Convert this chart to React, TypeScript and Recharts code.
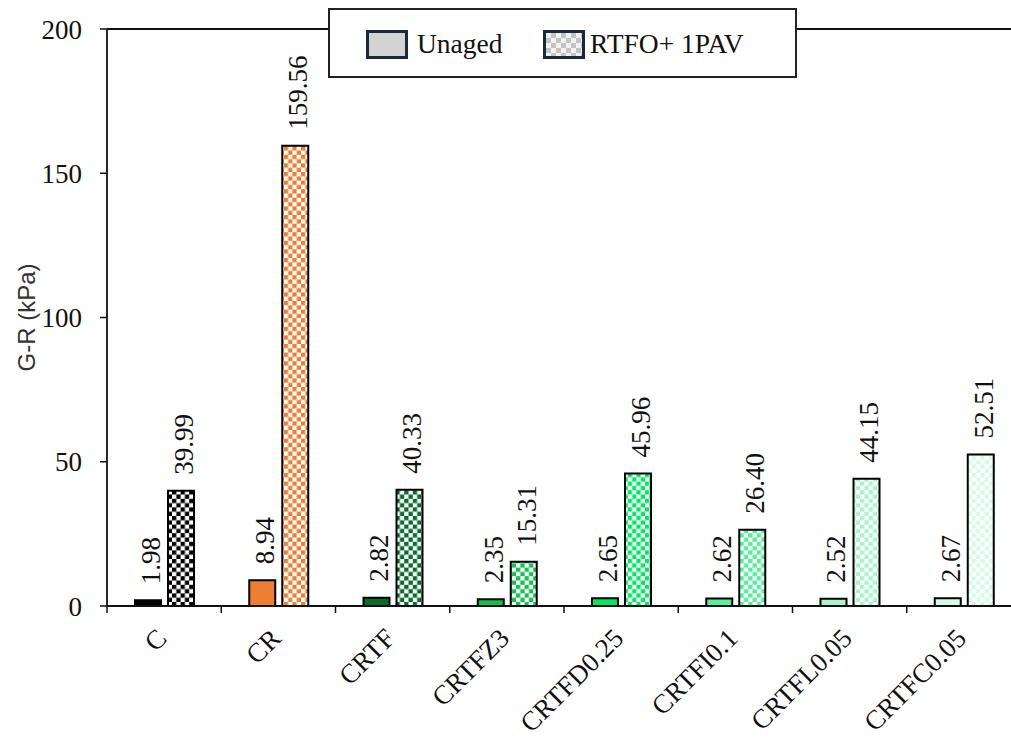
import { Bar, BarChart, Cell, LabelList, ReferenceLine, XAxis, YAxis } from "recharts";

const CATEGORIES = ["C", "CR", "CRTF", "CRTFZ3", "CRTFD0.25", "CRTFI0.1", "CRTFL0.05", "CRTFC0.05"];
const UNAGED = [1.98, 8.94, 2.82, 2.35, 2.65, 2.62, 2.52, 2.67];
const RTFO_PAV = [39.99, 159.56, 40.33, 15.31, 45.96, 26.4, 44.15, 52.51];
const COLORS = ["#000000", "#ED7D31", "#0A6B2E", "#16BE52", "#00E862", "#55EE9A", "#A8F5CD", "#D5FAE8"];
const Y_TICKS = [0, 50, 100, 150, 200];

const SERIF = "'Liberation Serif', 'Times New Roman', serif";
const SANS = "'Liberation Sans', Arial, sans-serif";

const W = 1011;
const H = 738;
const MARGIN = { top: 29, right: -10, bottom: 0, left: 0 };
const Y_AXIS_W = 107;
const X_AXIS_H = 132;
const BAND = (W - Y_AXIS_W - MARGIN.left - MARGIN.right) / CATEGORIES.length;

const data = CATEGORIES.map((name, i) => ({
  name,
  unaged: UNAGED[i],
  aged: RTFO_PAV[i],
}));

function ValueLabel(props: any) {
  const { x, y, width, value } = props;
  const cx = x + width / 2 + 3;
  const ty = y - 16;
  return (
    <text
      x={cx}
      y={ty}
      transform={`rotate(-90, ${cx}, ${ty})`}
      textAnchor="start"
      dominantBaseline="central"
      fontFamily={SERIF}
      style={{ fontFamily: SERIF, fontSize: 27, fill: "#111" }}
    >
      {Number(value).toFixed(2)}
    </text>
  );
}

function CategoryTick(props: any) {
  const { x, y, payload } = props;
  const tx = x + 4;
  const ty = y + 26;
  const bx = x - BAND / 2;
  return (
    <g>
      <line x1={bx} y1={y - 8} x2={bx} y2={y - 1} stroke="#111" strokeWidth={1.5} />
      <text
        x={tx}
        y={ty}
        transform={`rotate(-45, ${tx}, ${ty})`}
        textAnchor="end"
        style={{ fontFamily: SERIF, fontSize: 27, fill: "#111" }}
      >
        {payload.value}
      </text>
    </g>
  );
}

function LegendBox() {
  const swatch = { width: 36, height: 23, border: "3px solid #1B2A38", display: "inline-block" };
  return (
    <div
      style={{
        position: "absolute",
        left: 328,
        top: 8,
        width: 465,
        height: 66,
        border: "2px solid #222",
        background: "#fff",
        fontFamily: SERIF,
        fontSize: 27.5,
        color: "#111",
      }}
    >
      <span style={{ ...swatch, position: "absolute", left: 36, top: 20, background: "#D3D3D3" }} />
      <span style={{ position: "absolute", left: 87, top: 17, lineHeight: "34px" }}>Unaged</span>
      <span
        style={{
          ...swatch,
          position: "absolute",
          left: 213,
          top: 20,
          backgroundColor: "#F2F2F2",
          backgroundImage:
            "linear-gradient(45deg, #C4C4C4 25%, transparent 25%, transparent 75%, #C4C4C4 75%), linear-gradient(45deg, #C4C4C4 25%, transparent 25%, transparent 75%, #C4C4C4 75%)",
          backgroundSize: "10px 10px",
          backgroundPosition: "0 0, 5px 5px",
        }}
      />
      <span style={{ position: "absolute", left: 260, top: 17, lineHeight: "34px" }}>RTFO+ 1PAV</span>
    </div>
  );
}

export default function App() {
  return (
    <div style={{ position: "absolute", left: 0, top: 0, width: W, height: H, background: "#fff" }}>
      <BarChart width={W} height={H} data={data} margin={MARGIN} barSize={26} barGap={7}>
        <defs>
          {COLORS.map((c, i) => (
            <pattern key={i} id={`chk-${i}`} width={8.6} height={8.6} patternUnits="userSpaceOnUse">
              <rect x={0} y={0} width={8.6} height={8.6} fill="#fff" />
              <rect x={0} y={0} width={4.3} height={4.3} fill={c} />
              <rect x={4.3} y={4.3} width={4.3} height={4.3} fill={c} />
            </pattern>
          ))}
        </defs>
        <XAxis
          dataKey="name"
          height={X_AXIS_H}
          tickLine={false}
          axisLine={{ stroke: "#111", strokeWidth: 1.8 }}
          interval={0}
          tick={<CategoryTick />}
        />
        <YAxis
          width={Y_AXIS_W}
          domain={[0, 200]}
          ticks={Y_TICKS}
          tickSize={7}
          tickMargin={18}
          axisLine={{ stroke: "#111", strokeWidth: 1.8 }}
          tickLine={{ stroke: "#111", strokeWidth: 1.5 }}
          tick={{ fill: "#111", fontFamily: SERIF, fontSize: 27 }}
          label={{
            value: "G-R (kPa)",
            angle: -90,
            position: "center",
            dx: -27,
            style: { fontFamily: SANS, fontSize: 24, fill: "#333" },
          }}
        />
        <ReferenceLine y={200} stroke="#111" strokeWidth={1.8} />
        <Bar dataKey="unaged" stroke="#000" strokeWidth={2} isAnimationActive={false}>
          {data.map((_, i) => (
            <Cell key={i} fill={COLORS[i]} />
          ))}
          <LabelList dataKey="unaged" content={<ValueLabel />} />
        </Bar>
        <Bar dataKey="aged" stroke="#000" strokeWidth={2} isAnimationActive={false}>
          {data.map((_, i) => (
            <Cell key={i} fill={`url(#chk-${i})`} />
          ))}
          <LabelList dataKey="aged" content={<ValueLabel />} />
        </Bar>
      </BarChart>
      <LegendBox />
    </div>
  );
}
